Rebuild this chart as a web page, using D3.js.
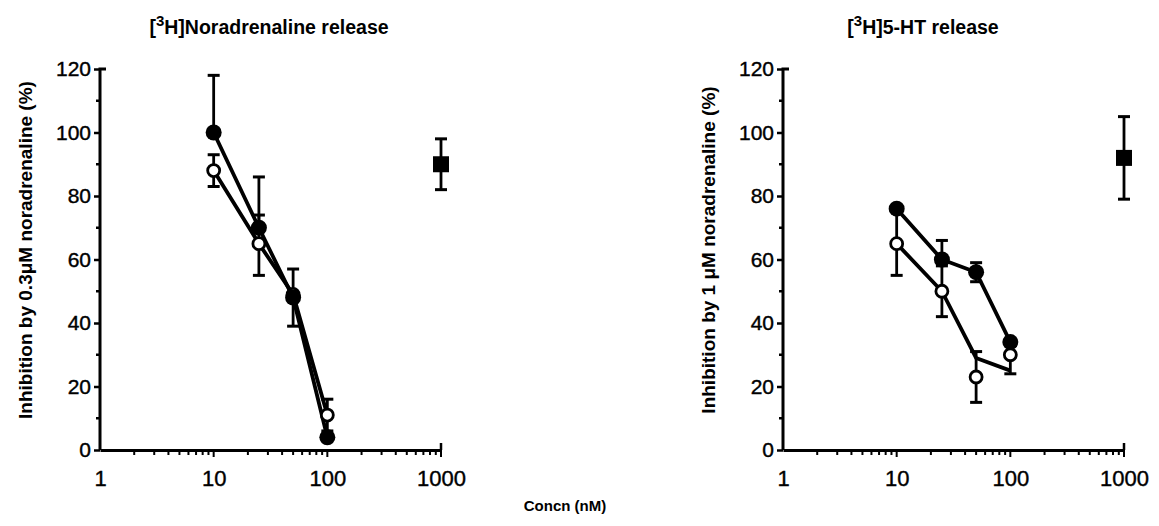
<!DOCTYPE html>
<html>
<head>
<meta charset="utf-8">
<script src="https://cdn.jsdelivr.net/npm/d3@7"></script>
<style>
  body { margin: 0; background: #fff; }
  svg text { font-family: "Liberation Sans", Arial, sans-serif; fill: #000; }
</style>
</head>
<body>
<div id="main"></div>
<script>
var ctx = {
    width: 1159,
    height: 526,
};

// shared axis values
var xTicks = [1, 10, 100, 1000];
var yTicks = [0, 20, 40, 60, 80, 100, 120];

// left panel: [3H]noradrenaline release
var naFilledPts = [
    {x: 10, y: 100, lo: 100, hi: 118},
    {x: 25, y: 70, lo: 70, hi: 86},
    {x: 50, y: 48, lo: 48, hi: 48},
    {x: 100, y: 4, lo: 4, hi: 4}
];
var naOpenPts = [
    {x: 10, y: 88, lo: 83, hi: 93},
    {x: 25, y: 65, lo: 55, hi: 74},
    {x: 50, y: 49, lo: 39, hi: 57},
    {x: 100, y: 11, lo: 6, hi: 16}
];
var naFilledLine = [[10, 100], [25, 70], [50, 48], [100, 4]];
var naOpenLine = [[10, 88], [25, 65], [50, 49], [100, 11]];
var naSquare = [{x: 1000, y: 90, lo: 82, hi: 98}];

// right panel: [3H]5-HT release
var htFilledPts = [
    {x: 10, y: 76, lo: 65, hi: 76},
    {x: 25, y: 60, lo: 60, hi: 66},
    {x: 50, y: 56, lo: 53, hi: 59},
    {x: 100, y: 34, lo: 34, hi: 34}
];
var htOpenPts = [
    {x: 10, y: 65, lo: 55, hi: 65},
    {x: 25, y: 50, lo: 42, hi: 58},
    {x: 50, y: 23, lo: 15, hi: 31},
    {x: 100, y: 30, lo: 24, hi: 30}
];
var htFilledLine = [[10, 76], [25, 60], [50, 56], [100, 34]];
var htOpenLine = [[10, 65], [25, 50], [50, 29], [100, 25]];
var htSquare = [{x: 1000, y: 92, lo: 79, hi: 105}];

var panels = [
    {left: 100, titleX: 269, title: "Noradrenaline release", yLabel: "Inhibition by 0.3\u03bcM noradrenaline (%)",
     filled: naFilledPts, open: naOpenPts, filledLine: naFilledLine, openLine: naOpenLine, square: naSquare},
    {left: 783, titleX: 923, title: "5-HT release", yLabel: "Inhibition by 1 \u03bcM noradrenaline (%)",
     filled: htFilledPts, open: htOpenPts, filledLine: htFilledLine, openLine: htOpenLine, square: htSquare}
];

var svg = d3.select("#main").append("svg")
    .attr("width", ctx.width)
    .attr("height", ctx.height);

var drawPanel = function(p) {
    var x = d3.scaleLog().domain([1, 1000]).range([p.left, p.left + 341]);
    var y = d3.scaleLinear().domain([0, 120]).range([450, 69]);
    var g = svg.append("g");

    // axes
    var xAxis = d3.axisBottom(x).tickValues(xTicks).tickFormat(d3.format("d")).tickSize(0).tickPadding(20);
    var xg = g.append("g").attr("transform", "translate(0,450)").call(xAxis);
    xg.select(".domain").attr("stroke-width", 3);
    xg.selectAll("text").style("font-size", "22px").attr("stroke", "#000").attr("stroke-width", 0.4);

    // log minor ticks
    var minor = [];
    for (var dec = 1; dec < 1000; dec *= 10) {
        for (var k = 2; k <= 10; k++) minor.push(dec * k);
    }
    g.append("g").selectAll("line").data(minor).enter().append("line")
        .attr("x1", function(d) { return x(d); }).attr("x2", function(d) { return x(d); })
        .attr("y1", 450).attr("y2", function(d) { return xTicks.indexOf(d) >= 0 ? 457 : 455; })
        .attr("stroke", "#000").attr("stroke-width", 2);
    g.append("line").attr("x1", x(1000)).attr("x2", x(1000)).attr("y1", 450).attr("y2", 443)
        .attr("stroke", "#000").attr("stroke-width", 2.5);

    var yAxis = d3.axisLeft(y).tickValues(yTicks).tickSize(6).tickPadding(3);
    var yg = g.append("g").attr("transform", "translate(" + p.left + ",0)").call(yAxis);
    yg.select(".domain").attr("stroke-width", 3).attr("d", "M6,69H0V450");
    yg.selectAll(".tick line").attr("stroke-width", 2.5);
    yg.selectAll("text").style("font-size", "21px").attr("stroke", "#000").attr("stroke-width", 0.4);
    g.append("g").selectAll("line").data([10, 30, 50, 70, 90, 110]).enter().append("line")
        .attr("x1", p.left).attr("x2", p.left - 4)
        .attr("y1", function(d) { return y(d); }).attr("y2", function(d) { return y(d); })
        .attr("stroke", "#000").attr("stroke-width", 2.5);

    // title
    var t = g.append("text").attr("x", p.titleX).attr("y", 34)
        .attr("text-anchor", "middle").style("font-size", "19.5px").style("font-weight", "bold");
    t.append("tspan").text("[");
    t.append("tspan").attr("dy", -8).style("font-size", "15px").text("3");
    t.append("tspan").attr("dy", 8).text("H]" + p.title);

    // y label
    g.append("text")
        .attr("transform", "translate(" + (p.left - 75) + ",250) rotate(-90)")
        .attr("text-anchor", "middle").attr("dy", "0.35em")
        .style("font-size", "19px").style("font-weight", "bold")
        .text(p.yLabel);

    var line = d3.line().x(function(d) { return x(d[0]); }).y(function(d) { return y(d[1]); });
    [p.openLine, p.filledLine].forEach(function(l) {
        g.append("path").datum(l).attr("d", line)
            .attr("fill", "none").attr("stroke", "#000").attr("stroke-width", 3.8);
    });

    // error bars
    var allPts = p.open.concat(p.filled).concat(p.square);
    var eb = g.append("g").selectAll("g").data(allPts).enter().append("g");
    eb.append("line")
        .attr("x1", function(d) { return x(d.x); }).attr("x2", function(d) { return x(d.x); })
        .attr("y1", function(d) { return y(d.lo); }).attr("y2", function(d) { return y(d.hi); })
        .attr("stroke", "#000").attr("stroke-width", 2.8);
    [ "lo", "hi" ].forEach(function(key) {
        eb.filter(function(d) { return d[key] !== d.y; }).append("line")
            .attr("x1", function(d) { return x(d.x) - 6; }).attr("x2", function(d) { return x(d.x) + 6; })
            .attr("y1", function(d) { return y(d[key]); }).attr("y2", function(d) { return y(d[key]); })
            .attr("stroke", "#000").attr("stroke-width", 3);
    });

    // markers
    g.append("g").selectAll("circle").data(p.open).enter().append("circle")
        .attr("cx", function(d) { return x(d.x); }).attr("cy", function(d) { return y(d.y); })
        .attr("r", 6).attr("fill", "#fff").attr("stroke", "#000").attr("stroke-width", 2.8);
    g.append("g").selectAll("circle").data(p.filled).enter().append("circle")
        .attr("cx", function(d) { return x(d.x); }).attr("cy", function(d) { return y(d.y); })
        .attr("r", 8).attr("fill", "#000");
    g.append("g").selectAll("rect").data(p.square).enter().append("rect")
        .attr("x", function(d) { return x(d.x) - 8; }).attr("y", function(d) { return y(d.y) - 8; })
        .attr("width", 16).attr("height", 16).attr("fill", "#000");
};

panels.forEach(drawPanel);

svg.append("text").attr("x", 565).attr("y", 511)
    .attr("text-anchor", "middle").style("font-size", "15px").style("font-weight", "bold")
    .text("Concn (nM)");
</script>
</body>
</html>
